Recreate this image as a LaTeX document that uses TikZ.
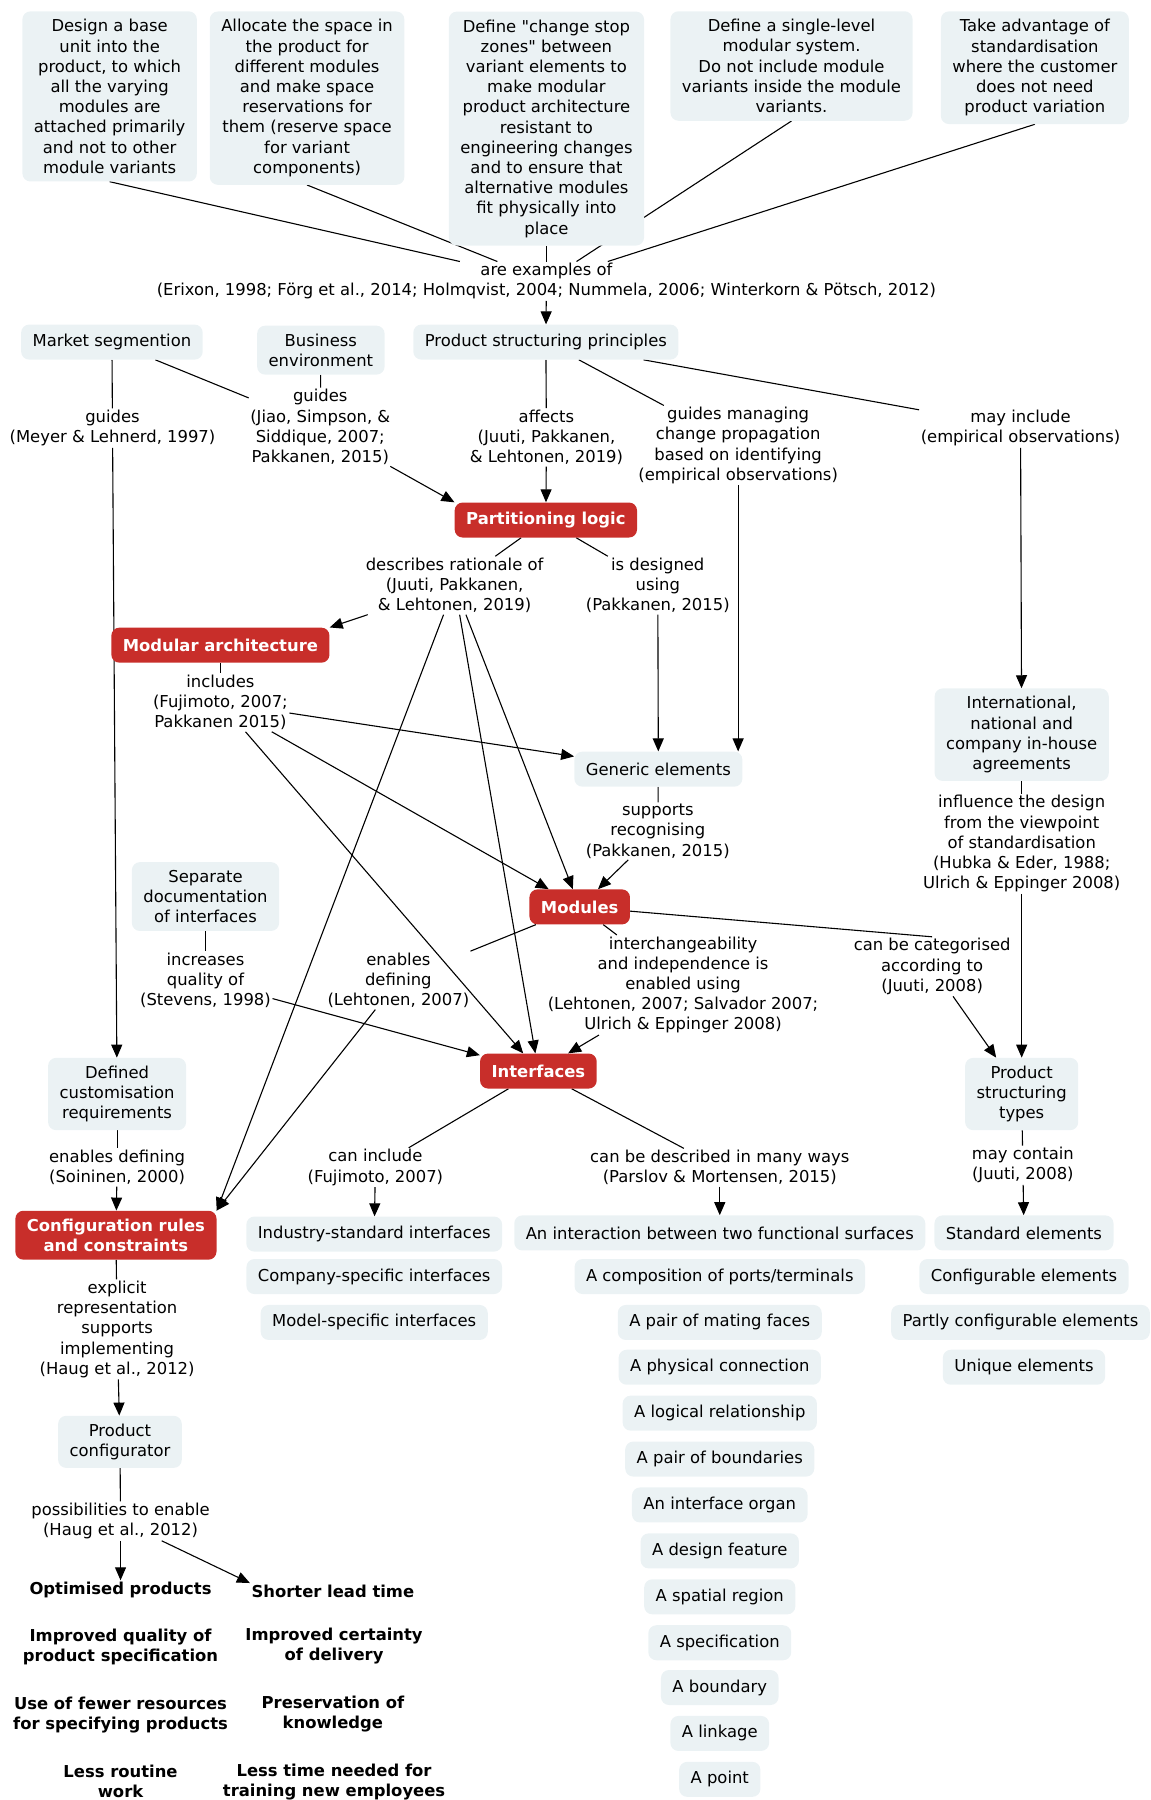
\documentclass[tikz,border=0pt]{standalone}
\usepackage{fontspec}
\setmainfont{DejaVu Sans}[Ligatures=TeXOff]
\usetikzlibrary{arrows.meta,backgrounds}

\definecolor{conceptfill}{RGB}{235,242,244}
\definecolor{keyred}{RGB}{200,46,42}
\newcommand{\mapfont}{\fontsize{16.4pt}{20.2pt}\selectfont}

\begin{document}
\begin{tikzpicture}[
    x=1.1477pt, y=1.1477pt,
    font=\mapfont,
    >={Triangle[length=13pt,width=11pt]},
    concept/.style={fill=conceptfill, rounded corners=8pt, align=center,
                    inner xsep=11.5pt, inner ysep=8pt, minimum height=35pt},
    keyconcept/.style={concept, fill=keyred, text=white, font=\mapfont\bfseries},
    linkphrase/.style={align=center, inner sep=1.5pt},
    outcome/.style={align=center, inner sep=1.5pt, font=\mapfont\bfseries},
    line/.style={line width=1.1pt, draw=black},
    arrow/.style={line, ->}
]

\useasboundingbox (0,0) rectangle (1002,-1568);

% principles at the top
\node[concept] (baseunit) at (95.5,-84)
    {Design a base\\unit into the\\product, to which\\all the varying\\modules are\\attached primarily\\and not to other\\module variants};
\node[concept] (allocate) at (267.5,-85.5)
    {Allocate the space in\\the product for\\different modules\\and make space\\reservations for\\them (reserve space\\for variant\\components)};
\node[concept] (stopzones) at (476,-112)
    {Define "change stop\\zones" between\\variant elements to\\make modular\\product architecture\\resistant to\\engineering changes\\and to ensure that\\alternative modules\\fit physically into\\place};
\node[concept] (singlelevel) at (689.5,-57.5)
    {Define a single-level\\modular system.\\Do not include module\\variants inside the module\\variants.};
\node[concept] (standardise) at (901.5,-59)
    {Take advantage of\\standardisation\\where the customer\\does not need\\product variation};

\node[linkphrase] (examples) at (476,-245)
    {are examples of\\(Erixon, 1998; Förg et al., 2014; Holmqvist, 2004; Nummela, 2006; Winterkorn \& Pötsch, 2012)};

\node[concept] (market) at (97.5,-298) {Market segmention};
\node[concept] (business) at (279.5,-305) {Business\\environment};
\node[concept] (principles) at (475.5,-298) {Product structuring principles};

\node[linkphrase] (guidesmeyer) at (98,-373) {guides\\(Meyer \& Lehnerd, 1997)};
\node[linkphrase] (guidesjiao) at (279,-372) {guides\\(Jiao, Simpson, \&\\Siddique, 2007;\\Pakkanen, 2015)};
\node[linkphrase] (affects) at (476,-381) {affects\\(Juuti, Pakkanen,\\\& Lehtonen, 2019)};
\node[linkphrase] (managing) at (643,-388)
    {guides managing\\change propagation\\based on identifying\\(empirical observations)};
\node[linkphrase] (mayinclude) at (889,-373) {may include\\(empirical observations)};

% partitioning logic and architecture
\node[keyconcept] (partitioning) at (475.5,-453) {Partitioning logic};
\node[linkphrase] (rationale) at (396,-510) {describes rationale of\\(Juuti, Pakkanen,\\\& Lehtonen, 2019)};
\node[linkphrase] (designed) at (573,-510) {is designed\\using\\(Pakkanen, 2015)};

\node[keyconcept] (modarch) at (192,-562) {Modular architecture};
\node[linkphrase] (includes) at (192,-612) {includes\\(Fujimoto, 2007;\\Pakkanen 2015)};

\node[concept] (international) at (890,-640)
    {International,\\national and\\company in-house\\agreements};
\node[linkphrase] (influence) at (890,-735)
    {influence the design\\from the viewpoint\\of standardisation\\(Hubka \& Eder, 1988;\\Ulrich \& Eppinger 2008)};

\node[concept] (generic) at (573.5,-670) {Generic elements};
\node[linkphrase] (supports) at (573,-724) {supports\\recognising\\(Pakkanen, 2015)};

\node[keyconcept] (modules) at (505,-790) {Modules};
\node[linkphrase] (interchange) at (595,-858)
    {interchangeability\\and independence is\\enabled using\\(Lehtonen, 2007; Salvador 2007;\\Ulrich \& Eppinger 2008)};
\node[linkphrase] (categorised) at (812,-842) {can be categorised\\according to\\(Juuti, 2008)};
\node[linkphrase] (enabling) at (347,-854) {enables\\defining\\(Lehtonen, 2007)};

\node[concept] (separatedoc) at (179,-781) {Separate\\documentation\\of interfaces};
\node[linkphrase] (increases) at (179,-854) {increases\\quality of\\(Stevens, 1998)};

\node[keyconcept] (interfaces) at (469,-933) {Interfaces};
\node[linkphrase] (caninclude) at (327,-1017) {can include\\(Fujimoto, 2007)};
\node[linkphrase] (described) at (627,-1017)
    {can be described in many ways\\(Parslov \& Mortensen, 2015)};

\node[concept] (customisation) at (102,-953) {Defined\\customisation\\requirements};
\node[linkphrase] (enablesdef) at (102,-1017) {enables defining\\(Soininen, 2000)};

\node[concept] (pstypes) at (890,-953) {Product\\structuring\\types};
\node[linkphrase] (maycontain) at (891,-1015) {may contain\\(Juuti, 2008)};

% configuration
\node[keyconcept] (configrules) at (101,-1076) {Configuration rules\\and constraints};
\node[linkphrase] (explicit) at (102,-1158)
    {explicit\\representation\\supports\\implementing\\(Haug et al., 2012)};
\node[concept] (configurator) at (104.5,-1256) {Product\\configurator};
\node[linkphrase] (possibilities) at (105,-1325) {possibilities to enable\\(Haug et al., 2012)};

\node[outcome] (optimised) at (105,-1385) {Optimised products};
\node[outcome] (quality) at (105,-1435) {Improved quality of\\product specification};
\node[outcome] (fewer) at (105,-1494) {Use of fewer resources\\for specifying products};
\node[outcome] (routine) at (105,-1552) {Less routine\\work};
\node[outcome] (shorter) at (290,-1386) {Shorter lead time};
\node[outcome] (certainty) at (291,-1434) {Improved certainty\\of delivery};
\node[outcome] (preservation) at (290,-1493) {Preservation of\\knowledge};
\node[outcome] (training) at (291,-1552) {Less time needed for\\training new employees};

% kinds of interfaces
\node[concept] (industry) at (326,-1075) {Industry-standard interfaces};
\node[concept] (company) at (326,-1112) {Company-specific interfaces};
\node[concept] (model) at (326,-1152) {Model-specific interfaces};

\node[concept] (interaction) at (627,-1074) {An interaction between two functional surfaces};
\node[concept] (ports) at (627,-1112) {A composition of ports/terminals};
\node[concept] (mating) at (627,-1152) {A pair of mating faces};
\node[concept] (physical) at (627,-1191) {A physical connection};
\node[concept] (logical) at (627,-1231) {A logical relationship};
\node[concept] (boundaries) at (627,-1271) {A pair of boundaries};
\node[concept] (organ) at (627,-1311) {An interface organ};
\node[concept] (feature) at (627,-1351) {A design feature};
\node[concept] (spatial) at (627,-1391) {A spatial region};
\node[concept] (spec) at (627,-1431) {A specification};
\node[concept] (boundary) at (627,-1470) {A boundary};
\node[concept] (linkage) at (627,-1510) {A linkage};
\node[concept] (point) at (627,-1550) {A point};

\node[concept] (standard) at (892,-1074) {Standard elements};
\node[concept] (configurable) at (892,-1112) {Configurable elements};
\node[concept] (partly) at (889,-1152) {Partly configurable elements};
\node[concept] (unique) at (892,-1191) {Unique elements};

\begin{scope}[on background layer]
\draw[line] (baseunit.south) -- (examples);
\draw[line] (allocate.south) -- (examples);
\draw[line] (stopzones) -- (examples);
\draw[line] (singlelevel.south) -- (examples);
\draw[line] (standardise.south) -- (examples);
\draw[arrow] (examples) -- (principles);

\draw[line] (market) -- (guidesmeyer);
\draw[arrow] (guidesmeyer) -- (customisation);
\draw[line] (market) -- (guidesjiao);
\draw[line] (business) -- (guidesjiao);
\draw[arrow] (guidesjiao) -- (partitioning.north west);
\draw[line] (principles) -- (affects);
\draw[arrow] (affects) -- (partitioning);
\draw[line] (principles) -- (managing);
\draw[arrow] (managing) -- (managing |- generic.north);
\draw[line] (principles) -- (mayinclude);
\draw[arrow] (mayinclude) -- (international);

\draw[line] (partitioning) -- (rationale);
\draw[line] (partitioning) -- (designed);
\draw[arrow] (rationale) -- (modarch.north east);
\draw[arrow] (rationale) -- (configrules.north east);
\draw[arrow] (rationale) -- (interfaces);
\draw[arrow] (rationale) -- (modules);
\draw[arrow] (designed) -- (generic);

\draw[line] (modarch) -- (includes);
\draw[arrow] (includes) -- (generic);
\draw[arrow] (includes) -- (modules);
\draw[arrow] (includes) -- (interfaces);

\draw[line] (generic) -- (supports);
\draw[arrow] (supports) -- (modules);
\draw[line] (international) -- (influence);
\draw[arrow] (influence) -- (pstypes);

\draw[line] (modules) -- (interchange);
\draw[arrow] (interchange) -- (interfaces);
\draw[line] (modules) -- (categorised.north);
\draw[arrow] (categorised) -- (pstypes);
\draw[line] (modules) -- (enabling);
\draw[arrow] (enabling) -- (configrules.north east);

\draw[line] (separatedoc) -- (increases);
\draw[arrow] (increases) -- (interfaces);

\draw[line] (interfaces) -- (caninclude);
\draw[arrow] (caninclude) -- (industry);
\draw[line] (interfaces) -- (described);
\draw[arrow] (described) -- (interaction);

\draw[line] (customisation) -- (enablesdef);
\draw[arrow] (enablesdef) -- (configrules);
\draw[line] (pstypes) -- (maycontain);
\draw[arrow] (maycontain) -- (standard);

\draw[line] (configrules) -- (explicit);
\draw[arrow] (explicit) -- (configurator);
\draw[line] (configurator) -- (possibilities);
\draw[arrow] (possibilities) -- (optimised);
\draw[arrow] (possibilities) -- (shorter.north west);
\end{scope}

\end{tikzpicture}
\end{document}
